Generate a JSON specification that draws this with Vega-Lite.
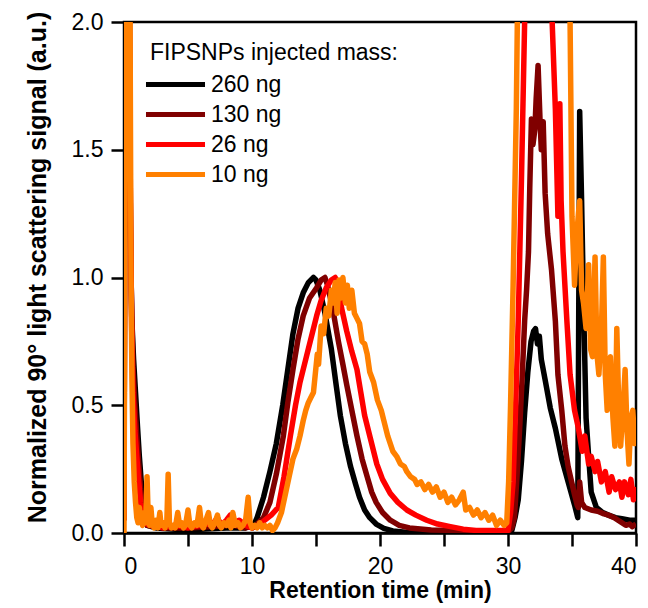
{
  "$schema": "https://vega.github.io/schema/vega-lite/v6.json",
  "width": 512,
  "height": 511,
  "autosize": {"type": "none"},
  "padding": {"left": 124, "top": 22, "right": 12, "bottom": 75},
  "background": "white",
  "config": {
    "view": {"stroke": "black", "strokeWidth": 2.5},
    "font": "Liberation Sans",
    "axis": {"grid": false, "domainColor": "black", "domainWidth": 2.5, "tickColor": "black", "tickWidth": 2.5, "tickSize": 13, "labelColor": "black", "labelFont": "Liberation Sans", "labelFontSize": 23, "titleColor": "black", "titleFont": "Liberation Sans", "titleFontWeight": "bold", "titleFontSize": 23}
  },
  "data": {"values": [
    {"s":"260 ng","t":0,"y":0.05},{"s":"260 ng","t":0.1,"y":2.3},{"s":"260 ng","t":0.4,"y":2.3},{"s":"260 ng","t":0.5,"y":1.2},{"s":"260 ng","t":0.6,"y":0.85},{"s":"260 ng","t":0.75,"y":0.68},{"s":"260 ng","t":0.9,"y":0.55},{"s":"260 ng","t":1.05,"y":0.42},{"s":"260 ng","t":1.2,"y":0.3},{"s":"260 ng","t":1.35,"y":0.2},{"s":"260 ng","t":1.5,"y":0.12},{"s":"260 ng","t":1.6,"y":0.06},{"s":"260 ng","t":1.8,"y":0.03},{"s":"260 ng","t":2.5,"y":0.02},{"s":"260 ng","t":4,"y":0.015},{"s":"260 ng","t":6,"y":0.015},{"s":"260 ng","t":8,"y":0.02},{"s":"260 ng","t":9.5,"y":0.02},{"s":"260 ng","t":9.9,"y":0.03},{"s":"260 ng","t":10.05,"y":0.02},{"s":"260 ng","t":10.4,"y":0.06},{"s":"260 ng","t":10.9,"y":0.14},{"s":"260 ng","t":11.4,"y":0.24},{"s":"260 ng","t":11.9,"y":0.35},{"s":"260 ng","t":12.4,"y":0.5},{"s":"260 ng","t":12.8,"y":0.64},{"s":"260 ng","t":13.2,"y":0.78},{"s":"260 ng","t":13.6,"y":0.88},{"s":"260 ng","t":14,"y":0.94},{"s":"260 ng","t":14.4,"y":0.98},{"s":"260 ng","t":14.8,"y":1.0},{"s":"260 ng","t":15,"y":0.99},{"s":"260 ng","t":15.3,"y":0.95},{"s":"260 ng","t":15.7,"y":0.86},{"s":"260 ng","t":16.2,"y":0.72},{"s":"260 ng","t":16.6,"y":0.57},{"s":"260 ng","t":16.9,"y":0.46},{"s":"260 ng","t":17.3,"y":0.35},{"s":"260 ng","t":17.7,"y":0.26},{"s":"260 ng","t":18.1,"y":0.19},{"s":"260 ng","t":18.4,"y":0.14},{"s":"260 ng","t":18.8,"y":0.09},{"s":"260 ng","t":19.2,"y":0.06},{"s":"260 ng","t":19.7,"y":0.035},{"s":"260 ng","t":20.3,"y":0.018},{"s":"260 ng","t":21,"y":0.008},{"s":"260 ng","t":22,"y":0.003},{"s":"260 ng","t":25,"y":0},{"s":"260 ng","t":30,"y":0},{"s":"260 ng","t":30.3,"y":0.01},{"s":"260 ng","t":30.55,"y":0.06},{"s":"260 ng","t":30.8,"y":0.13},{"s":"260 ng","t":31.05,"y":0.28},{"s":"260 ng","t":31.3,"y":0.47},{"s":"260 ng","t":31.55,"y":0.63},{"s":"260 ng","t":31.8,"y":0.75},{"s":"260 ng","t":32,"y":0.79},{"s":"260 ng","t":32.15,"y":0.8},{"s":"260 ng","t":32.3,"y":0.74},{"s":"260 ng","t":32.45,"y":0.77},{"s":"260 ng","t":32.6,"y":0.68},{"s":"260 ng","t":32.9,"y":0.6},{"s":"260 ng","t":33.3,"y":0.49},{"s":"260 ng","t":33.7,"y":0.41},{"s":"260 ng","t":34.2,"y":0.29},{"s":"260 ng","t":34.7,"y":0.2},{"s":"260 ng","t":35.2,"y":0.11},{"s":"260 ng","t":35.45,"y":0.06},{"s":"260 ng","t":35.6,"y":1.65},{"s":"260 ng","t":35.75,"y":1.3},{"s":"260 ng","t":35.9,"y":0.9},{"s":"260 ng","t":36.1,"y":0.45},{"s":"260 ng","t":36.3,"y":0.3},{"s":"260 ng","t":36.5,"y":0.16},{"s":"260 ng","t":36.9,"y":0.1},{"s":"260 ng","t":37.4,"y":0.08},{"s":"260 ng","t":37.85,"y":0.07},{"s":"260 ng","t":38.4,"y":0.06},{"s":"260 ng","t":38.9,"y":0.056},{"s":"260 ng","t":39.5,"y":0.05},{"s":"260 ng","t":40,"y":0.05},

    {"s":"130 ng","t":0,"y":0.05},{"s":"130 ng","t":0.1,"y":2.3},{"s":"130 ng","t":0.35,"y":2.3},{"s":"130 ng","t":0.45,"y":1.6},{"s":"130 ng","t":0.55,"y":1.0},{"s":"130 ng","t":0.7,"y":0.65},{"s":"130 ng","t":0.85,"y":0.5},{"s":"130 ng","t":1.0,"y":0.38},{"s":"130 ng","t":1.15,"y":0.27},{"s":"130 ng","t":1.3,"y":0.17},{"s":"130 ng","t":1.45,"y":0.1},{"s":"130 ng","t":1.6,"y":0.05},{"s":"130 ng","t":1.8,"y":0.03},{"s":"130 ng","t":3,"y":0.02},{"s":"130 ng","t":5,"y":0.02},{"s":"130 ng","t":7,"y":0.025},{"s":"130 ng","t":8.5,"y":0.03},{"s":"130 ng","t":9.5,"y":0.02},{"s":"130 ng","t":10.3,"y":0.03},{"s":"130 ng","t":10.9,"y":0.06},{"s":"130 ng","t":11.4,"y":0.12},{"s":"130 ng","t":11.9,"y":0.23},{"s":"130 ng","t":12.45,"y":0.38},{"s":"130 ng","t":12.8,"y":0.51},{"s":"130 ng","t":13.2,"y":0.64},{"s":"130 ng","t":13.6,"y":0.76},{"s":"130 ng","t":14,"y":0.85},{"s":"130 ng","t":14.5,"y":0.92},{"s":"130 ng","t":15.05,"y":0.96},{"s":"130 ng","t":15.4,"y":0.99},{"s":"130 ng","t":15.7,"y":1.0},{"s":"130 ng","t":15.9,"y":0.97},{"s":"130 ng","t":16.3,"y":0.88},{"s":"130 ng","t":16.75,"y":0.75},{"s":"130 ng","t":17.1,"y":0.66},{"s":"130 ng","t":17.4,"y":0.58},{"s":"130 ng","t":17.8,"y":0.48},{"s":"130 ng","t":18.2,"y":0.38},{"s":"130 ng","t":18.6,"y":0.29},{"s":"130 ng","t":19,"y":0.22},{"s":"130 ng","t":19.35,"y":0.16},{"s":"130 ng","t":19.7,"y":0.12},{"s":"130 ng","t":20.2,"y":0.08},{"s":"130 ng","t":20.8,"y":0.05},{"s":"130 ng","t":21.5,"y":0.03},{"s":"130 ng","t":22.3,"y":0.02},{"s":"130 ng","t":24,"y":0.012},{"s":"130 ng","t":26,"y":0.01},{"s":"130 ng","t":28,"y":0.005},{"s":"130 ng","t":30,"y":0.005},{"s":"130 ng","t":30.3,"y":0.02},{"s":"130 ng","t":30.5,"y":0.06},{"s":"130 ng","t":30.7,"y":0.22},{"s":"130 ng","t":30.9,"y":0.4},{"s":"130 ng","t":31.1,"y":0.6},{"s":"130 ng","t":31.3,"y":0.83},{"s":"130 ng","t":31.45,"y":0.95},{"s":"130 ng","t":31.6,"y":1.1},{"s":"130 ng","t":31.7,"y":1.35},{"s":"130 ng","t":31.83,"y":1.62},{"s":"130 ng","t":31.95,"y":1.52},{"s":"130 ng","t":32.1,"y":1.58},{"s":"130 ng","t":32.2,"y":1.7},{"s":"130 ng","t":32.35,"y":1.83},{"s":"130 ng","t":32.5,"y":1.62},{"s":"130 ng","t":32.6,"y":1.5},{"s":"130 ng","t":32.75,"y":1.61},{"s":"130 ng","t":32.9,"y":1.33},{"s":"130 ng","t":33.1,"y":1.17},{"s":"130 ng","t":33.4,"y":1.03},{"s":"130 ng","t":33.7,"y":0.83},{"s":"130 ng","t":33.9,"y":0.62},{"s":"130 ng","t":34.2,"y":0.48},{"s":"130 ng","t":34.45,"y":0.34},{"s":"130 ng","t":34.7,"y":0.26},{"s":"130 ng","t":34.97,"y":0.2},{"s":"130 ng","t":35.2,"y":0.15},{"s":"130 ng","t":35.4,"y":0.11},{"s":"130 ng","t":35.5,"y":0.1},{"s":"130 ng","t":35.6,"y":0.2},{"s":"130 ng","t":35.75,"y":0.12},{"s":"130 ng","t":36,"y":0.1},{"s":"130 ng","t":36.5,"y":0.09},{"s":"130 ng","t":37,"y":0.085},{"s":"130 ng","t":37.5,"y":0.075},{"s":"130 ng","t":37.85,"y":0.07},{"s":"130 ng","t":38.3,"y":0.06},{"s":"130 ng","t":38.6,"y":0.05},{"s":"130 ng","t":38.9,"y":0.04},{"s":"130 ng","t":39.2,"y":0.03},{"s":"130 ng","t":39.5,"y":0.035},{"s":"130 ng","t":39.7,"y":0.025},{"s":"130 ng","t":40,"y":0.035},

    {"s":"26 ng","t":0,"y":0.05},{"s":"26 ng","t":0.1,"y":2.3},{"s":"26 ng","t":0.4,"y":2.3},{"s":"26 ng","t":0.5,"y":1.3},{"s":"26 ng","t":0.6,"y":0.8},{"s":"26 ng","t":0.7,"y":0.55},{"s":"26 ng","t":0.85,"y":0.4},{"s":"26 ng","t":1.0,"y":0.3},{"s":"26 ng","t":1.15,"y":0.2},{"s":"26 ng","t":1.3,"y":0.12},{"s":"26 ng","t":1.45,"y":0.07},{"s":"26 ng","t":1.6,"y":0.04},{"s":"26 ng","t":2,"y":0.03},{"s":"26 ng","t":3,"y":0.02},{"s":"26 ng","t":4,"y":0.03},{"s":"26 ng","t":5,"y":0.02},{"s":"26 ng","t":6,"y":0.03},{"s":"26 ng","t":7,"y":0.04},{"s":"26 ng","t":7.3,"y":0.06},{"s":"26 ng","t":7.6,"y":0.03},{"s":"26 ng","t":8,"y":0.05},{"s":"26 ng","t":8.3,"y":0.07},{"s":"26 ng","t":8.6,"y":0.04},{"s":"26 ng","t":9,"y":0.05},{"s":"26 ng","t":9.5,"y":0.03},{"s":"26 ng","t":10,"y":0.02},{"s":"26 ng","t":10.5,"y":0.03},{"s":"26 ng","t":11,"y":0.05},{"s":"26 ng","t":11.5,"y":0.07},{"s":"26 ng","t":12.05,"y":0.1},{"s":"26 ng","t":12.5,"y":0.22},{"s":"26 ng","t":13,"y":0.38},{"s":"26 ng","t":13.4,"y":0.5},{"s":"26 ng","t":13.75,"y":0.59},{"s":"26 ng","t":14.1,"y":0.66},{"s":"26 ng","t":14.4,"y":0.72},{"s":"26 ng","t":14.7,"y":0.78},{"s":"26 ng","t":15.05,"y":0.85},{"s":"26 ng","t":15.4,"y":0.91},{"s":"26 ng","t":15.8,"y":0.96},{"s":"26 ng","t":16.2,"y":0.99},{"s":"26 ng","t":16.5,"y":1.0},{"s":"26 ng","t":16.7,"y":0.97},{"s":"26 ng","t":17,"y":0.88},{"s":"26 ng","t":17.4,"y":0.79},{"s":"26 ng","t":17.8,"y":0.71},{"s":"26 ng","t":18.2,"y":0.64},{"s":"26 ng","t":18.5,"y":0.55},{"s":"26 ng","t":18.8,"y":0.46},{"s":"26 ng","t":19.25,"y":0.37},{"s":"26 ng","t":19.75,"y":0.27},{"s":"26 ng","t":20.2,"y":0.21},{"s":"26 ng","t":20.8,"y":0.155},{"s":"26 ng","t":21.4,"y":0.12},{"s":"26 ng","t":22.1,"y":0.09},{"s":"26 ng","t":22.8,"y":0.07},{"s":"26 ng","t":23.65,"y":0.05},{"s":"26 ng","t":24.5,"y":0.035},{"s":"26 ng","t":25.5,"y":0.025},{"s":"26 ng","t":26.5,"y":0.015},{"s":"26 ng","t":27.5,"y":0.01},{"s":"26 ng","t":29,"y":0.01},{"s":"26 ng","t":30,"y":0.01},{"s":"26 ng","t":30.2,"y":0.08},{"s":"26 ng","t":30.4,"y":0.2},{"s":"26 ng","t":30.6,"y":0.5},{"s":"26 ng","t":30.8,"y":0.83},{"s":"26 ng","t":31.05,"y":1.38},{"s":"26 ng","t":31.3,"y":2.0},{"s":"26 ng","t":31.45,"y":2.3},{"s":"26 ng","t":33.2,"y":2.3},{"s":"26 ng","t":33.45,"y":2.0},{"s":"26 ng","t":33.7,"y":1.66},{"s":"26 ng","t":33.9,"y":1.24},{"s":"26 ng","t":34.05,"y":1.68},{"s":"26 ng","t":34.15,"y":1.3},{"s":"26 ng","t":34.3,"y":1.1},{"s":"26 ng","t":34.6,"y":0.83},{"s":"26 ng","t":34.85,"y":0.62},{"s":"26 ng","t":35.2,"y":0.48},{"s":"26 ng","t":35.5,"y":0.41},{"s":"26 ng","t":35.8,"y":0.32},{"s":"26 ng","t":36,"y":0.38},{"s":"26 ng","t":36.3,"y":0.27},{"s":"26 ng","t":36.5,"y":0.3},{"s":"26 ng","t":36.8,"y":0.24},{"s":"26 ng","t":37,"y":0.28},{"s":"26 ng","t":37.3,"y":0.2},{"s":"26 ng","t":37.6,"y":0.24},{"s":"26 ng","t":37.9,"y":0.16},{"s":"26 ng","t":38.1,"y":0.22},{"s":"26 ng","t":38.4,"y":0.17},{"s":"26 ng","t":38.7,"y":0.2},{"s":"26 ng","t":38.9,"y":0.14},{"s":"26 ng","t":39.1,"y":0.2},{"s":"26 ng","t":39.4,"y":0.15},{"s":"26 ng","t":39.6,"y":0.21},{"s":"26 ng","t":39.8,"y":0.13},{"s":"26 ng","t":40,"y":0.18},

    {"s":"10 ng","t":0,"y":0},{"s":"10 ng","t":0.15,"y":2.3},{"s":"10 ng","t":0.45,"y":2.3},{"s":"10 ng","t":0.55,"y":1.0},{"s":"10 ng","t":0.62,"y":0.6},{"s":"10 ng","t":0.7,"y":0.35},{"s":"10 ng","t":0.8,"y":0.2},{"s":"10 ng","t":0.9,"y":0.12},{"s":"10 ng","t":1.0,"y":0.06},{"s":"10 ng","t":1.1,"y":0.04},{"s":"10 ng","t":1.2,"y":0.1},{"s":"10 ng","t":1.3,"y":0.05},{"s":"10 ng","t":1.45,"y":0.03},{"s":"10 ng","t":1.6,"y":0.08},{"s":"10 ng","t":1.7,"y":0.04},{"s":"10 ng","t":1.8,"y":0.22},{"s":"10 ng","t":1.9,"y":0.05},{"s":"10 ng","t":2.0,"y":0.03},{"s":"10 ng","t":2.1,"y":0.1},{"s":"10 ng","t":2.2,"y":0.04},{"s":"10 ng","t":2.35,"y":0.02},{"s":"10 ng","t":2.5,"y":0.05},{"s":"10 ng","t":2.65,"y":0.02},{"s":"10 ng","t":2.8,"y":0.08},{"s":"10 ng","t":2.9,"y":0.03},{"s":"10 ng","t":3.05,"y":0.04},{"s":"10 ng","t":3.2,"y":0.02},{"s":"10 ng","t":3.35,"y":0.05},{"s":"10 ng","t":3.45,"y":0.23},{"s":"10 ng","t":3.55,"y":0.04},{"s":"10 ng","t":3.7,"y":0.02},{"s":"10 ng","t":3.85,"y":0.03},{"s":"10 ng","t":4.0,"y":0.02},{"s":"10 ng","t":4.2,"y":0.08},{"s":"10 ng","t":4.35,"y":0.03},{"s":"10 ng","t":4.5,"y":0.04},{"s":"10 ng","t":4.65,"y":0.02},{"s":"10 ng","t":4.8,"y":0.03},{"s":"10 ng","t":5.0,"y":0.09},{"s":"10 ng","t":5.15,"y":0.03},{"s":"10 ng","t":5.3,"y":0.02},{"s":"10 ng","t":5.5,"y":0.04},{"s":"10 ng","t":5.7,"y":0.03},{"s":"10 ng","t":5.9,"y":0.1},{"s":"10 ng","t":6.05,"y":0.03},{"s":"10 ng","t":6.2,"y":0.02},{"s":"10 ng","t":6.4,"y":0.05},{"s":"10 ng","t":6.6,"y":0.08},{"s":"10 ng","t":6.75,"y":0.03},{"s":"10 ng","t":6.9,"y":0.02},{"s":"10 ng","t":7.1,"y":0.04},{"s":"10 ng","t":7.3,"y":0.07},{"s":"10 ng","t":7.45,"y":0.03},{"s":"10 ng","t":7.6,"y":0.02},{"s":"10 ng","t":7.8,"y":0.04},{"s":"10 ng","t":8.0,"y":0.03},{"s":"10 ng","t":8.2,"y":0.05},{"s":"10 ng","t":8.35,"y":0.02},{"s":"10 ng","t":8.5,"y":0.08},{"s":"10 ng","t":8.7,"y":0.03},{"s":"10 ng","t":8.9,"y":0.04},{"s":"10 ng","t":9.1,"y":0.02},{"s":"10 ng","t":9.3,"y":0.03},{"s":"10 ng","t":9.5,"y":0.05},{"s":"10 ng","t":9.7,"y":0.14},{"s":"10 ng","t":9.85,"y":0.04},{"s":"10 ng","t":10.0,"y":0.02},{"s":"10 ng","t":10.2,"y":0.03},{"s":"10 ng","t":10.4,"y":0.02},{"s":"10 ng","t":10.6,"y":0.04},{"s":"10 ng","t":10.8,"y":0.02},{"s":"10 ng","t":11.0,"y":0.03},{"s":"10 ng","t":11.2,"y":0.02},{"s":"10 ng","t":11.4,"y":0.03},{"s":"10 ng","t":11.6,"y":0.01},{"s":"10 ng","t":11.8,"y":0.02},{"s":"10 ng","t":12.0,"y":0.04},{"s":"10 ng","t":12.3,"y":0.08},{"s":"10 ng","t":12.6,"y":0.15},{"s":"10 ng","t":12.9,"y":0.22},{"s":"10 ng","t":13.2,"y":0.29},{"s":"10 ng","t":13.5,"y":0.33},{"s":"10 ng","t":13.75,"y":0.38},{"s":"10 ng","t":14.0,"y":0.44},{"s":"10 ng","t":14.2,"y":0.48},{"s":"10 ng","t":14.4,"y":0.51},{"s":"10 ng","t":14.6,"y":0.53},{"s":"10 ng","t":14.8,"y":0.55},{"s":"10 ng","t":14.9,"y":0.6},{"s":"10 ng","t":15.1,"y":0.7},{"s":"10 ng","t":15.2,"y":0.66},{"s":"10 ng","t":15.4,"y":0.81},{"s":"10 ng","t":15.6,"y":0.78},{"s":"10 ng","t":15.8,"y":0.88},{"s":"10 ng","t":16.0,"y":0.85},{"s":"10 ng","t":16.2,"y":0.95},{"s":"10 ng","t":16.35,"y":0.9},{"s":"10 ng","t":16.5,"y":0.98},{"s":"10 ng","t":16.65,"y":0.86},{"s":"10 ng","t":16.8,"y":0.99},{"s":"10 ng","t":16.95,"y":0.92},{"s":"10 ng","t":17.1,"y":1.0},{"s":"10 ng","t":17.3,"y":0.9},{"s":"10 ng","t":17.45,"y":0.97},{"s":"10 ng","t":17.6,"y":0.88},{"s":"10 ng","t":17.8,"y":0.95},{"s":"10 ng","t":18.0,"y":0.86},{"s":"10 ng","t":18.2,"y":0.84},{"s":"10 ng","t":18.4,"y":0.82},{"s":"10 ng","t":18.6,"y":0.75},{"s":"10 ng","t":18.8,"y":0.74},{"s":"10 ng","t":19.0,"y":0.7},{"s":"10 ng","t":19.2,"y":0.63},{"s":"10 ng","t":19.5,"y":0.59},{"s":"10 ng","t":19.8,"y":0.52},{"s":"10 ng","t":20.1,"y":0.48},{"s":"10 ng","t":20.3,"y":0.44},{"s":"10 ng","t":20.6,"y":0.38},{"s":"10 ng","t":21.0,"y":0.32},{"s":"10 ng","t":21.3,"y":0.3},{"s":"10 ng","t":21.6,"y":0.27},{"s":"10 ng","t":21.9,"y":0.26},{"s":"10 ng","t":22.1,"y":0.24},{"s":"10 ng","t":22.4,"y":0.22},{"s":"10 ng","t":22.7,"y":0.21},{"s":"10 ng","t":22.9,"y":0.19},{"s":"10 ng","t":23.2,"y":0.2},{"s":"10 ng","t":23.5,"y":0.17},{"s":"10 ng","t":23.8,"y":0.19},{"s":"10 ng","t":24.1,"y":0.16},{"s":"10 ng","t":24.4,"y":0.18},{"s":"10 ng","t":24.7,"y":0.14},{"s":"10 ng","t":25.0,"y":0.16},{"s":"10 ng","t":25.3,"y":0.12},{"s":"10 ng","t":25.6,"y":0.14},{"s":"10 ng","t":25.9,"y":0.11},{"s":"10 ng","t":26.2,"y":0.13},{"s":"10 ng","t":26.5,"y":0.16},{"s":"10 ng","t":26.7,"y":0.09},{"s":"10 ng","t":27.0,"y":0.1},{"s":"10 ng","t":27.3,"y":0.07},{"s":"10 ng","t":27.6,"y":0.09},{"s":"10 ng","t":27.9,"y":0.06},{"s":"10 ng","t":28.2,"y":0.08},{"s":"10 ng","t":28.5,"y":0.05},{"s":"10 ng","t":28.8,"y":0.07},{"s":"10 ng","t":29.1,"y":0.03},{"s":"10 ng","t":29.4,"y":0.05},{"s":"10 ng","t":29.7,"y":0.03},{"s":"10 ng","t":29.9,"y":0.04},{"s":"10 ng","t":30.05,"y":0.2},{"s":"10 ng","t":30.2,"y":0.5},{"s":"10 ng","t":30.4,"y":0.97},{"s":"10 ng","t":30.65,"y":1.66},{"s":"10 ng","t":30.8,"y":2.3},{"s":"10 ng","t":34.6,"y":2.3},{"s":"10 ng","t":34.85,"y":2.0},{"s":"10 ng","t":35.0,"y":1.24},{"s":"10 ng","t":35.2,"y":0.97},{"s":"10 ng","t":35.35,"y":1.15},{"s":"10 ng","t":35.5,"y":1.25},{"s":"10 ng","t":35.6,"y":1.3},{"s":"10 ng","t":35.75,"y":0.95},{"s":"10 ng","t":35.9,"y":0.9},{"s":"10 ng","t":36.1,"y":0.8},{"s":"10 ng","t":36.3,"y":1.05},{"s":"10 ng","t":36.45,"y":0.72},{"s":"10 ng","t":36.6,"y":0.69},{"s":"10 ng","t":36.8,"y":1.08},{"s":"10 ng","t":36.95,"y":0.7},{"s":"10 ng","t":37.1,"y":0.62},{"s":"10 ng","t":37.3,"y":0.8},{"s":"10 ng","t":37.45,"y":1.08},{"s":"10 ng","t":37.6,"y":0.62},{"s":"10 ng","t":37.75,"y":0.48},{"s":"10 ng","t":38.0,"y":0.69},{"s":"10 ng","t":38.2,"y":0.45},{"s":"10 ng","t":38.35,"y":0.34},{"s":"10 ng","t":38.5,"y":0.8},{"s":"10 ng","t":38.65,"y":0.5},{"s":"10 ng","t":38.8,"y":0.34},{"s":"10 ng","t":39.0,"y":0.5},{"s":"10 ng","t":39.15,"y":0.64},{"s":"10 ng","t":39.3,"y":0.4},{"s":"10 ng","t":39.45,"y":0.27},{"s":"10 ng","t":39.6,"y":0.45},{"s":"10 ng","t":39.75,"y":0.48},{"s":"10 ng","t":39.9,"y":0.35},{"s":"10 ng","t":40,"y":0.45}
  ]},
  "mark": {"type": "line", "clip": true, "strokeWidth": 5.5, "strokeJoin": "round"},
  "encoding": {
    "x": {"field": "t", "type": "quantitative", "scale": {"domain": [0, 40], "nice": false},
      "axis": {"title": "Retention time (min)", "values": [0,5,10,15,20,25,30,35,40], "labelExpr": "datum.value % 10 === 0 ? datum.label : ''", "labelPadding": 9, "titleBaseline": "alphabetic", "titleY": 64, "titleX": 256}},
    "y": {"field": "y", "type": "quantitative", "scale": {"domain": [0, 2], "nice": false},
      "axis": {"title": "Normalized 90° light scattering signal (a.u.)", "values": [0, 0.5, 1, 1.5, 2], "format": ".1f", "labelPadding": 8, "titleFontSize": 25, "titleBaseline": "alphabetic", "titleAngle": -90, "titleX": -79, "titleY": 245}},
    "color": {"field": "s", "type": "nominal",
      "scale": {"domain": ["260 ng", "130 ng", "26 ng", "10 ng"], "range": ["#000000", "#800000", "#ff0000", "#ff8000"]},
      "legend": {"title": "FIPSNPs injected mass:", "orient": "none", "legendX": 26, "legendY": 20, "padding": 0,
        "titleFont": "Liberation Sans", "titleFontSize": 23, "titleFontWeight": "normal", "titleColor": "black", "titlePadding": 7, "titleLimit": 500,
        "labelFont": "Liberation Sans", "labelFontSize": 23, "labelColor": "black", "labelOffset": 23, "labelLimit": 300,
        "symbolType": "M-3,0H3", "symbolSize": 387, "symbolStrokeWidth": 5, "symbolOffset": 13, "rowPadding": 5}}
  }
}
